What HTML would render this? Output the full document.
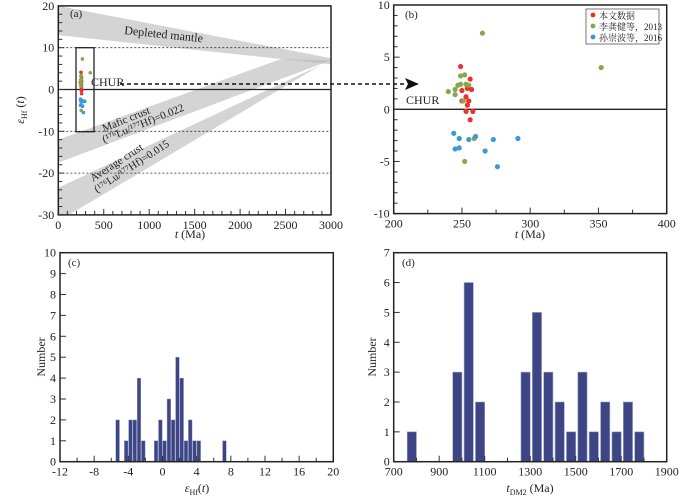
<!DOCTYPE html>
<html><head><meta charset="utf-8"><style>
body{margin:0;background:#fff;}
svg{display:block;font-family:"Liberation Serif","Noto Serif CJK SC",serif;}
</style></head><body>
<svg id="s" width="700" height="500" viewBox="0 0 700 500"></svg>
<script>
// Panel b / a data (t Ma, eHf)
const redT=[249,256,250,254,257,253,255,250,254,253,258,256];
const redE=[4.1,2.9,1.8,2.0,1.9,1.2,0.8,0.8,0.4,-0.2,-0.2,-1.0];
const greenT=[265,352,252,249,240,245,245,247,249,253,255,251,259,252];
const greenE=[7.3,4.0,3.3,3.2,1.7,1.9,1.4,2.3,2.4,2.4,2.3,0.8,-2.8,-5.0];
const blueT=[244,248,260,255,273,291,245,248,267,276];
const blueE=[-2.3,-2.8,-2.6,-2.9,-2.9,-2.8,-3.8,-3.7,-4.0,-5.5];
// Panel c histogram (bin start, count), bin width 0.5
const cBins=[-5.5,-4.5,-4,-3.5,-3,-2.5,-1,-0.5,0,0.5,1,1.5,2,2.5,3,3.5,4,7];
const cCounts=[2,1,2,2,4,1,1,2,1,3,2,5,4,1,2,1,1,1];
// Panel d histogram (bin start, count), bin width 50
const dBins=[755,955,1005,1055,1255,1305,1355,1405,1455,1505,1555,1605,1655,1705,1755];
const dCounts=[1,3,6,2,3,5,3,2,1,3,1,2,1,2,1];
const aXTicks=[0,500,1000,1500,2000,2500,3000];
const aYTicks=[20,10,0,-10,-20,-30];
const bXTicks=[200,250,300,350,400];
const bYTicks=[10,5,0,-5,-10];
const cXTicks=[-12,-8,-4,0,4,8,12,16,20];
const dXTicks=[700,900,1100,1300,1500,1700,1900];

const S=document.getElementById('s');
const NS='http://www.w3.org/2000/svg';
function mk(tag,at,parent){const e=document.createElementNS(NS,tag);for(const k in at)e.setAttribute(k,at[k]);(parent||S).appendChild(e);return e;}
function txt(x,y,s,at){const e=mk('text',Object.assign({x:x,y:y,'font-size':12,fill:'#222'},at||{}));e.textContent=s;return e;}
function rich(x,y,parts,at){const e=mk('text',Object.assign({x:x,y:y,'font-size':12,fill:'#222'},at||{}));
  parts.forEach(p=>{const t=mk('tspan',p[1]||{},e);t.textContent=p[0];});return e;}
function lin(d0,d1,r0,r1){return v=>r0+(v-d0)*(r1-r0)/(d1-d0);}

function axes(name,x0,x1,y0,y1,X,Y,xt,xminor,yt,yminor){
  const g=mk('g',{});
  
  
  for(let v=xminor[0];v<=xminor[1]+1e-9;v+=xminor[2]){const x=X(v);const maj=xt.some(t=>Math.abs(t-v)<1e-6);
    mk('line',{x1:x,x2:x,y1:y1,y2:y1-(maj?6:4),stroke:'#333','stroke-width':1},g);}
  for(let v=yminor[0];v<=yminor[1]+1e-9;v+=yminor[2]){const y=Y(v);const maj=yt.some(t=>Math.abs(t-v)<1e-6);
    mk('line',{x1:x0,x2:x0+(maj?6:4),y1:y,y2:y,stroke:'#333','stroke-width':1},g);}
  xt.forEach(v=>{const t=txt(X(v),y1+14,String(v),{'text-anchor':'middle'});
    });
  yt.forEach(v=>{const t=txt(x0-4,Y(v)+4,String(v),{'text-anchor':'end'});
    });
  mk('rect',{x:x0,y:y0,width:x1-x0,height:y1-y0,fill:'none',stroke:'#222','stroke-width':1.5},g);
}
const IT={'font-style':'italic'};
const SUB={'font-size':8,dy:3};
const UP={dy:-3};

// ===== Panel a =====
{const X=lin(0,3000,58.3,331),Y=lin(0,10,89.5,47.7);
 const bands=mk('g',{});
 
 
 const poly=(pts,n)=>{const p=mk('polygon',{points:pts.map(q=>X(q[0])+','+Y(q[1])).join(' '),fill:'#b8b8b8','fill-opacity':0.6},bands);
   };
 poly([[0,20],[3000,7.5],[3000,6],[0,13]],'depleted-mantle-band');
 poly([[0,-12],[2450,7.3],[3000,7],[0,-17.5]],'mafic-crust-band');
 poly([[0,-23.5],[3000,7],[2900,6],[0,-31.5]],'average-crust-band');
 mk('rect',{x:58.3,y:0,width:280,height:5,fill:'#fff'});
 mk('rect',{x:58.3,y:214,width:280,height:10,fill:'#fff'});
 [10,-10,-20].forEach(v=>{const l=mk('line',{x1:X(0),x2:X(3000),y1:Y(v),y2:Y(v),stroke:'#333','stroke-dasharray':'2,2','stroke-width':0.8});
   });
 const z=mk('line',{x1:X(0),x2:X(3000),y1:Y(0),y2:Y(0),stroke:'#222','stroke-width':1.2});
 
 axes('panel-a',58.3,331,Y(20),Y(-30),X,Y,aXTicks,[0,3000,100],aYTicks,[-30,20,2]);
 const bx=mk('rect',{x:76,y:47.7,width:18,height:84,fill:'none',stroke:'#222','stroke-width':1.3});
 
 [[redT,redE,'#e8322a'],[greenT,greenE,'#8aa64a'],[blueT,blueE,'#3a9ad9']].forEach(s=>{
   s[0].forEach((t,i)=>{const c=mk('circle',{cx:X(t),cy:Y(s[1][i]),r:1.8,fill:s[2]});
     });});
 txt(70,17,'(a)',{'font-size':11});
 let t=txt(124,34,'Depleted mantle',{transform:'rotate(6 124 34)','font-size':12});
 t=txt(91,86,'CHUR',{'font-size':12});
 t=txt(104,132,'Mafic crust',{transform:'rotate(-22 104 132)','font-size':11});
 t=txt(104,143,'(¹⁷⁶Lu/¹⁷⁷Hf)=0.022',{transform:'rotate(-22 104 143)','font-size':11});
 t=txt(93,182,'Average crust',{transform:'rotate(-33 93 182)','font-size':11});
 t=txt(97,193,'(¹⁷⁶Lu/¹⁷⁷Hf)=0.015',{transform:'rotate(-33 97 193)','font-size':11});
 t=rich(190,238,[['t',IT],[' (Ma)']],{'text-anchor':'middle'});
 t=rich(24,110,[['ε',IT],['Hf',SUB],[' (',UP],['t',IT],[')']],{transform:'rotate(-90 24 110)','text-anchor':'middle'});
 const ar=mk('line',{x1:120,x2:407,y1:84,y2:84,stroke:'#111','stroke-width':1.5,'stroke-dasharray':'4,3'});
 
 mk('polygon',{points:'405,78 419,84 405,90 408,84',fill:'#111'});
}
// ===== Panel b =====
{const X=lin(200,400,393.7,666.7),Y=lin(0,10,109.3,5);
 const z=mk('line',{x1:X(200),x2:X(400),y1:Y(0),y2:Y(0),stroke:'#222','stroke-width':1.3});
 
 axes('panel-b',393.7,666.7,Y(10),Y(-10),X,Y,bXTicks,[200,400,25],bYTicks,[-10,10,1]);
 [[redT,redE,'#e8322a'],[greenT,greenE,'#8aa64a'],[blueT,blueE,'#3a9ad9']].forEach(s=>{
   s[0].forEach((t,i)=>{const c=mk('circle',{cx:X(t),cy:Y(s[1][i]),r:2.6,fill:s[2]});
     });});
 txt(405,18,'(b)',{'font-size':11});
 let t=txt(406,104,'CHUR');
 t=rich(530,238,[['t',IT],[' (Ma)']],{'text-anchor':'middle'});
 const lg=mk('g',{});
 mk('rect',{x:586,y:9,width:73,height:35,fill:'#fff',stroke:'#555','stroke-width':0.8},lg);
 [['本文数据','#e8322a'],['李龚健等，2013','#8aa64a'],['孙崇波等，2016','#3a9ad9']].forEach((e,i)=>{
   mk('circle',{cx:593,cy:15+i*11,r:2.4,fill:e[1]},lg);
   const tt=txt(599,19+i*11,e[0],{'font-size':9});
   lg.appendChild(tt);});
}
// ===== Panel c =====
{const X=lin(-12,20,60,333.3),Y=lin(0,10,461.7,252.7);
 cBins.forEach((b,i)=>{const r=mk('rect',{x:X(b)+0.3,y:Y(cCounts[i]),width:X(b+0.5)-X(b)-0.6,height:Y(0)-Y(cCounts[i]),fill:'#3d4585',stroke:'#9aa0c8','stroke-width':0.4});
   });
 axes('panel-c',60,333.3,252.7,461.7,X,Y,cXTicks,[-12,20,2],[0,1,2,3,4,5,6,7,8,9,10],[0,10,1]);
 txt(68,266,'(c)',{'font-size':11});
 let t=rich(197,492,[['ε',IT],['Hf',SUB],['(',UP],['t',IT],[')']],{'text-anchor':'middle'});
 t=txt(45,357,'Number',{transform:'rotate(-90 45 357)','text-anchor':'middle'});
}
// ===== Panel d =====
{const X=lin(700,1900,393.7,666.7),Y=lin(0,7,461.7,252.7);
 dBins.forEach((b,i)=>{const r=mk('rect',{x:X(b)+1,y:Y(dCounts[i]),width:X(b+45)-X(b)-1,height:Y(0)-Y(dCounts[i]),fill:'#3d4585',stroke:'#9aa0c8','stroke-width':0.6});
   });
 axes('panel-d',393.7,666.7,252.7,461.7,X,Y,dXTicks,[700,1900,100],[0,1,2,3,4,5,6,7],[0,7,1]);
 txt(402,266,'(d)',{'font-size':11});
 let t=rich(530,492,[['t',IT],['DM2',SUB],[' (Ma)',UP]],{'text-anchor':'middle'});
 t=txt(376,357,'Number',{transform:'rotate(-90 376 357)','text-anchor':'middle'});
}
</script>
</body></html>
